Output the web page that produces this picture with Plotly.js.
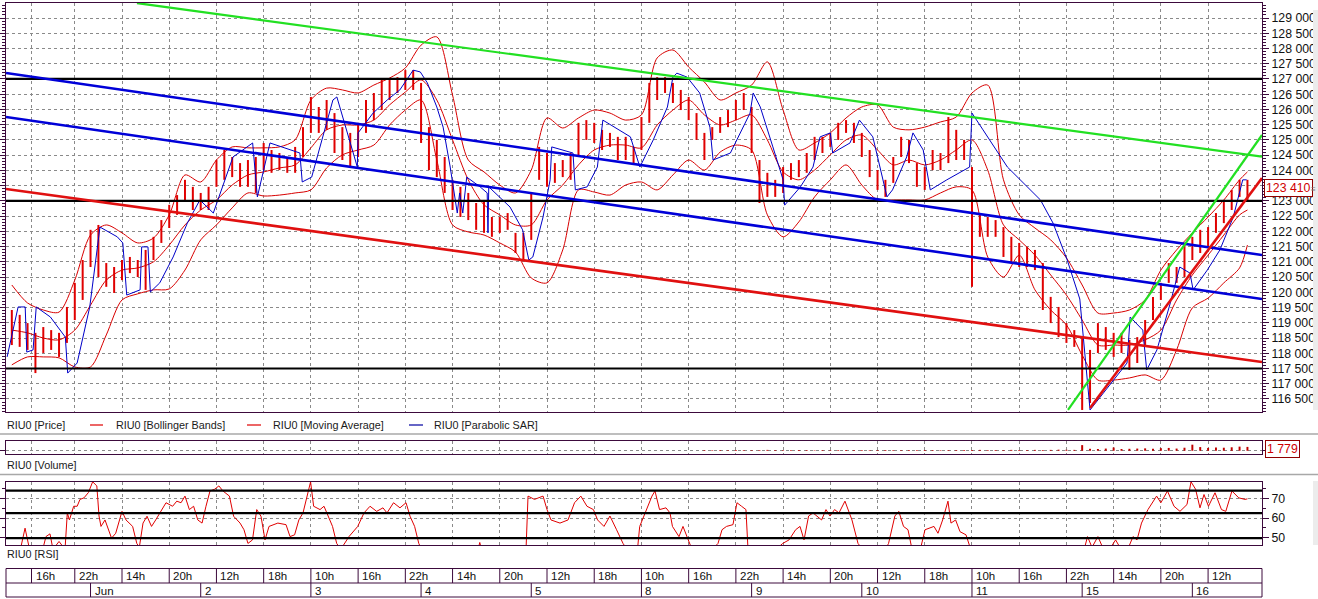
<!DOCTYPE html>
<html><head><meta charset="utf-8">
<script src="https://cdn.plot.ly/plotly-3.0.1.min.js"></script>
<style>html,body{margin:0;padding:0;background:#fff;overflow:hidden}#chart{width:1318px;height:599px}</style>
</head><body><div id="chart"></div>
<script>
// ---------- DATA (x = trading-session hour index, 14 h per session) ----------
const firstBarHour = 4;
const priceHigh = [119420,119260,118990,118670,118860,118760,118670,119520,120310,121060,122050,122210,120960,120830,121060,121160,121060,121390,121820,122370,122870,123190,123690,123460,123260,123460,124340,124670,124440,124240,124340,124440,124900,124670,124570,124440,124770,125420,126410,126080,126310,125880,125420,125230,125560,126310,126540,126970,126970,127060,127290,127290,126870,125420,125000,124440,123690,123460,123260,122930,123030,122470,122470,122600,121950,121950,123260,124770,124570,124240,124340,124570,125560,125650,125560,125330,125230,125100,125100,124770,125750,126870,127060,127060,126870,126640,126410,125880,125230,125420,125750,125980,126310,126540,126080,124340,123920,123690,124110,124240,124340,124570,125100,125100,125230,125560,125650,125560,125230,124670,124010,123690,124440,125100,125000,124240,124110,124670,124570,125750,125330,125000,124110,122600,122470,122370,122140,121820,121620,121490,121390,120960,119850,119520,118990,118760,118530,118110,118990,118860,118670,118670,118440,118530,119090,119850,120310,120960,120830,121620,121820,122050,122140,122600,123030,123360,123690,123690];
const priceLow = [118270,118210,118110,117350,118010,118110,117880,118340,119090,119750,120830,120500,120180,119980,120400,120630,120500,120080,121060,121620,122110,122540,123030,122700,122700,122700,123460,123690,123780,123460,123460,123260,124010,123920,124010,123920,123920,124440,125230,125230,125330,124570,124340,124110,124440,125230,125650,125980,126310,126540,126640,126640,124900,124010,123780,123260,122700,122470,122370,122050,121950,121820,121950,122050,121290,121060,121720,123690,123460,123590,123780,123690,124440,125000,124900,124670,124770,124340,124340,124240,124670,125560,126310,126540,126210,125980,125650,125000,124340,125000,125230,125420,125650,125980,124570,122930,123130,123130,123260,123690,123780,123920,124340,124570,124770,125000,125230,124900,124440,123780,123360,123130,123590,124440,124240,123460,123360,124010,124010,124240,124340,124340,120180,121820,121820,121820,121160,120960,120830,120830,120730,119420,118990,118530,118340,118210,116140,116370,118010,118110,117880,118010,117450,117680,118210,119090,119750,120310,120310,120500,121060,121290,121490,121950,122270,122700,123130,123030];
const lastPrice = 123410;

const bandHour = [4,6,8,10,12,14,16,18,20,22,24,26,28,30,32,34,36,38,40,42,44,46,48,50,52,54,56,58,60,62,64,66,68,70,72,74,76,78,80,82,84,86,88,90,92,94,96,98,100,102,104,106,108,110,112,114,116,118,120,122,124,126,128,130,132,134,136,138,140,142,144,146,148,150,152,154,156,158,160,161];
const bbUpper = [120240,119650,119420,119350,120400,121880,122210,121950,121620,121780,122540,123850,123620,124340,124770,124740,124740,124770,125000,126310,126700,126640,126540,126800,127030,127360,128110,128380,126470,124340,123950,123520,123260,124010,125720,125390,125720,125980,125880,125650,125820,127690,127950,127390,126900,126310,126540,126800,127560,125980,124670,124900,125230,125720,126080,126150,125420,125330,125420,125590,125750,126540,126800,123690,122540,122110,121720,121130,120240,119320,119320,119420,119750,120730,121390,121950,122470,123030,123690,123950];
const bbLower = [117620,117880,117880,117850,117550,117550,118600,119750,119950,120080,120110,120730,121720,122210,122770,123260,123160,123190,123260,123360,124080,124510,124670,124830,125490,125980,126310,124340,122210,121980,121880,121620,121320,120470,120310,121390,123360,123290,123190,123520,123620,123360,123850,124340,124010,124600,124830,124670,122540,121820,122310,123130,123690,124180,123520,123030,123030,123030,123030,123260,123460,123360,121160,120500,121220,120080,119420,118930,117940,117120,117120,117190,117290,117120,118110,119490,119810,120310,120800,121550];
const movingAvg = [118760,118670,118500,118440,118760,119580,120400,120730,120800,121000,121550,122210,122700,123030,123520,123850,123950,124080,124180,124740,125330,125490,125490,125650,126150,126570,126970,126310,125000,123690,122870,122540,122210,122210,123030,123520,124180,124670,124830,124830,124740,125490,125980,126310,125820,125490,125650,125820,125000,123950,123690,124010,124510,125000,125160,124670,124180,124340,124180,124340,124670,125000,124010,122210,121720,121220,120570,119910,119090,118270,118270,118270,118440,118760,119750,120570,121220,121880,122540,122700];

const sarHour = [3.4,4.8,5.7,5.9,6.7,7.1,8.9,10.8,11.1,12.3,13.9,15.2,17.4,18.1,18.6,20.3,20.5,21.3,21.6,22.8,24.5,26.3,27.9,28.8,29.6,32.1,34.6,35.2,36.8,40.6,40.9,42.1,44.8,45.3,47.9,48.0,49.9,51.7,53.3,55.0,55.9,56.8,58.0,58.8,59.7,60.6,60.9,61.3,61.8,63.5,64.4,64.5,64.6,67.3,68.9,69.5,69.7,70.2,71.5,72.4,72.6,75.3,75.6,77.1,78.4,78.8,79.1,82.6,83.8,85.5,87.3,88.0,88.5,89.8,91.4,92.7,93.1,95.3,97.8,98.2,99.1,100.7,102.0,102.2,104.2,105.8,106.7,108.0,108.3,110.5,111.7,113.4,115.2,115.9,117.7,118.5,119.8,120.7,122.8,125.7,126.0,127.4,130.5,134.7,136.3,138.1,139.7,141.0,142.3,145.7,146.1,147.7,148.2,149.5,151.2,152.4,153.7,154.1,155.9,157.5,159.2,160.4,160.9];
const sarValue = [117880,119520,119520,118040,118110,119520,119190,118530,117350,117680,119520,122140,121820,121620,119910,120080,121490,121490,120010,120310,121160,122270,123030,122800,122600,124440,124900,123130,124900,124570,123620,123780,126310,126410,124110,125230,125880,126310,126640,127290,127230,126870,126080,125420,124110,122600,123260,122600,123780,123460,123260,121950,123460,122800,122050,121290,121060,121160,122470,123690,124770,124570,123360,123460,124110,125000,125650,125100,124110,125000,126080,127060,127190,127060,126540,125420,124340,124570,125880,126540,126080,124770,123690,122860,123460,124110,125100,125230,124570,124900,125650,125100,123130,123360,124440,125230,124670,123360,123690,124110,125880,125330,124110,123030,122270,121060,119780,116140,116560,117680,119190,118760,117450,118110,119650,120830,120630,120080,120730,121390,122470,123690,123690];

const levelPrices = [127000, 123000, 117500];
const greenUpperHour = [19.9, 162.85], greenUpperPrice = [129490, 124450];
const blueUpperHour = [3.26, 162.85], blueUpperPrice = [127196, 121224];
const blueLowerHour = [3.26, 162.85], blueLowerPrice = [125752, 119781];
const redLongHour = [3.26, 162.85], redLongPrice = [123390, 117714];
const greenSteepHour = [138.2, 162.85], greenSteepPrice = [116139, 125162];
const redSteepHour = [141.0, 162.85], redSteepPrice = [116205, 123751];

const priceTicks = [116500,117000,117500,118000,118500,119000,119500,120000,120500,121000,121500,122000,122500,123000,123500,124000,124500,125000,125500,126000,126500,127000,127500,128000,128500,129000];
const priceTickLabels = ['116 500','117 000','117 500','118 000','118 500','119 000','119 500','120 000','120 500','121 000','121 500','122 000','122 500','123 000','','124 000','124 500','125 000','125 500','126 000','126 500','127 000','127 500','128 000','128 500','129 000'];

const firstVolHour = 92;
const volume = [300,250,300,200,350,300,250,300,400,300,250,300,350,300,200,300,250,300,350,300,300,250,300,350,300,250,300,300,350,300,250,300,300,350,300,400,300,350,300,400,350,300,400,350,400,500,450,400,2600,900,800,1000,1500,800,900,1000,1100,900,1200,1300,1000,1400,2800,1700,1300,1500,1400,1600,1900,1779];
const lastVolume = 1779;

const rsiHour = [4.0,5.2,5.68,6.25,7.8,8.34,8.85,9.23,10.0,10.76,11.05,11.32,11.86,12.3,12.66,13.17,13.73,14.27,14.8,15.08,15.33,15.84,16.67,17.2,18.0,18.51,19.35,19.88,20.2,20.67,21.18,21.75,22.28,22.83,23.59,24.43,24.96,25.5,26.0,26.56,27.1,27.63,28.17,28.67,29.18,29.77,30.31,30.83,31.65,32.18,33.0,33.5,34.0,34.58,35.12,35.66,36.17,36.68,37.8,38.84,39.35,39.93,40.47,41.0,41.76,41.96,42.35,43.16,43.67,44.18,44.75,45.28,45.8,46.84,47.95,48.75,49.51,50.36,51.16,51.67,52.5,53.32,54.09,54.6,55.18,55.71,56.5,63.0,63.46,63.9,69.3,69.59,70.41,71.5,72.0,72.51,73.65,74.67,75.5,76.3,77.08,77.9,78.43,79.24,80.0,80.84,81.66,82.5,83.5,83.78,84.33,85.34,85.72,86.3,87.12,87.63,87.94,88.77,89.28,89.87,90.42,92,93.73,94.24,94.81,95.63,96.14,96.72,97.28,97.54,100,101.95,102.75,103.59,104.15,104.66,105.24,105.8,106.89,107.45,107.96,108.54,109.1,109.86,110.75,111.52,112.5,115.0,115.4,116.2,116.7,117.3,117.87,118.38,119.5,120.03,121.17,121.68,122.27,122.95,123.33,123.92,124.48,125.24,125.84,128,140,140.68,141.25,142.0,142.6,143.8,144.25,144.8,146.0,146.46,146.97,147.54,148.36,149.46,150.0,150.84,151.67,152.43,153.32,153.83,154.41,154.97,155.48,156.05,156.88,157.7,158.25,159.03,159.9,160.69,161.0];
const rsiValue = [40,46,54.8,44,42,50.5,51.9,44,48,44,62.6,59,66,66,69.5,70.3,73,78.5,76.4,61,55.7,59,49.7,52.2,63.4,59,55.7,47,45,57.4,60.9,55.7,59,62.6,67.8,66,68.6,67.8,71.2,64.3,66,59,57.4,66,73.8,74.7,76.4,73.8,71.2,60.9,57.4,54,47,48.8,64.3,60.9,48.8,55.7,57.4,56.6,50.5,51.4,59,62.6,74.7,78.5,66,64.3,66,61,55.7,47,44,50.5,55.7,62.6,66,63.4,65.2,62.6,67.8,65.2,67.8,60.9,55.7,47,40,40,47.5,40,40,71.2,69.5,71.2,64.3,59,57.4,59,67.8,71.2,66,64.3,59,55.7,61,54,47,42,44,55.7,61,71.2,73.8,64.3,65.2,62.6,55.7,50.5,55.7,48.8,44,40,47,54,55.7,56.6,67.8,66,64.3,44,40,47,48.8,54,55.7,48.8,61,62.6,59,64.3,61,64.3,62.6,68.6,59,47,42,44,47,61,63.4,55.7,54,44,45,54,55.7,52.2,59,68.6,57.4,59,53,51.4,44,40,40,50.5,45,50.5,45,46,48.8,45,46,50.5,48.8,57.4,64.3,71.2,67.8,73.8,66,63.4,66.9,78.5,74.7,65.2,72,66,72.9,64.3,63.4,73.8,70.3,69.5,69.8];
const rsiLevels = [74, 62.5, 49.7];

const hourTicks = [6.5,12,18,24,30,36,42,48,54,60,66,72,78,84,90,96,102,108,114,120,126,132,138,144,150,156];
const hourLabels = ['16h','22h','14h','20h','12h','18h','10h','16h','22h','14h','20h','12h','18h','10h','16h','22h','14h','20h','12h','18h','10h','16h','22h','14h','20h','12h'];
const dayTicks = [14,28,42,56,70,84,98,112,126,140,154];
const dayLabels = ['Jun','2','3','4','5','8','9','10','11','15','16'];
const legendNames = ['RIU0 [Price]','RIU0 [Bollinger Bands]','RIU0 [Moving Average]','RIU0 [Parabolic SAR]'];

// ---------- LAYOUT HELPERS ----------
const W = 1318, H = 599, PL = 6, PR = 1262;
const X0 = 3.26, X1 = 162.85;
const pxX = p => (p - PL) / (PR - PL);
const pxY = p => 1 - p / H;
const FONT = 'Liberation Sans, Arial, sans-serif';
const FRAME = '#3c0a3c';
const RED = '#e00000';
const fmt = v => String(v).replace(/\B(?=(\d{3})+(?!\d))/g, ' ');

// ---------- TRACES ----------
const traces = [];
const bx = [], by = [];
priceHigh.forEach((h, i) => { const t = firstBarHour + i; bx.push(t, t, null); by.push(priceLow[i], h, null); });
traces.push({type:'scatter', mode:'lines', x:bx, y:by, xaxis:'x', yaxis:'y', line:{color:RED, width:2}, hoverinfo:'skip'});
[bbUpper, bbLower, movingAvg].forEach(arr => traces.push({type:'scatter', mode:'lines', x:bandHour, y:arr, xaxis:'x', yaxis:'y', line:{color:'#d80000', width:1, shape:'spline', smoothing:0.8}, hoverinfo:'skip'}));
traces.push({type:'scatter', mode:'lines', x:sarHour, y:sarValue, xaxis:'x', yaxis:'y', line:{color:'#0000c8', width:1}, hoverinfo:'skip'});
levelPrices.forEach(v => traces.push({type:'scatter', mode:'lines', x:[X0, X1], y:[v, v], xaxis:'x', yaxis:'y', line:{color:'#000', width:2.2}, hoverinfo:'skip'}));
const tl = (xs, ys, c, w) => traces.push({type:'scatter', mode:'lines', x:xs, y:ys, xaxis:'x', yaxis:'y', line:{color:c, width:w}, hoverinfo:'skip'});
tl(greenUpperHour, greenUpperPrice, '#22e022', 2.2);
tl(blueUpperHour, blueUpperPrice, '#0000d8', 2.6);
tl(blueLowerHour, blueLowerPrice, '#0000d8', 2.6);
tl(redLongHour, redLongPrice, '#e01010', 2.6);
tl(greenSteepHour, greenSteepPrice, '#22e022', 2.2);
tl(redSteepHour, redSteepPrice, '#e01010', 2.6);
traces.push({type:'bar', x:volume.map((_, i) => firstVolHour + i), y:volume, xaxis:'x2', yaxis:'y2', marker:{color:'#c00000'}, width:0.25, hoverinfo:'skip'});
traces.push({type:'scatter', mode:'lines', x:rsiHour, y:rsiValue, xaxis:'x3', yaxis:'y3', line:{color:RED, width:1}, hoverinfo:'skip'});
rsiLevels.forEach(v => traces.push({type:'scatter', mode:'lines', x:[X0, X1], y:[v, v], xaxis:'x3', yaxis:'y3', line:{color:'#000', width:2.4}, hoverinfo:'skip'}));

// ---------- AXES ----------
const GRID = {showgrid:true, gridcolor:'#8a8a8a', griddash:'3px,3px', gridwidth:1};
const xBase = Object.assign({range:[X0, X1], tickmode:'array', tickvals:hourTicks, showticklabels:false, ticks:'', zeroline:false, showline:true, linecolor:FRAME, linewidth:1, mirror:true, fixedrange:true}, GRID);
const yBase = Object.assign({side:'right', showline:true, linecolor:FRAME, linewidth:1, mirror:'ticks', ticks:'outside', tickcolor:FRAME, ticklen:6, zeroline:false, tickfont:{family:FONT, size:12.3, color:'#111'}, fixedrange:true}, GRID);

// ---------- SHAPES / ANNOTATIONS ----------
const shapes = [], ann = [];
const hline = (py, x0p, x1p, c, w) => shapes.push({type:'line', xref:'paper', yref:'paper', x0:pxX(x0p), x1:pxX(x1p), y0:pxY(py), y1:pxY(py), line:{color:c, width:w}});
hline(434, 0, W, '#a8a8a8', 1.5);
hline(474.5, 0, W, '#a8a8a8', 1.5);
shapes.push({type:'rect', xref:'paper', yref:'paper', x0:0, x1:1, y0:pxY(597), y1:pxY(568.5), line:{color:FRAME, width:1}});
hline(583, PL, PR, FRAME, 1);
hourTicks.forEach((t, i) => {
  shapes.push({type:'line', xref:'x', yref:'paper', x0:t, x1:t, y0:pxY(568.5), y1:pxY(583), line:{color:FRAME, width:1}});
  ann.push({xref:'x', yref:'paper', x:t, y:pxY(576), text:hourLabels[i], showarrow:false, xanchor:'left', yanchor:'middle', xshift:2, font:{family:FONT, size:11.5, color:'#111'}});
});
dayTicks.forEach((t, i) => {
  shapes.push({type:'line', xref:'x', yref:'paper', x0:t, x1:t, y0:pxY(583), y1:pxY(597), line:{color:FRAME, width:1}});
  ann.push({xref:'x', yref:'paper', x:t, y:pxY(590.5), text:dayLabels[i], showarrow:false, xanchor:'left', yanchor:'middle', xshift:2, font:{family:FONT, size:11.5, color:'#111'}});
});
const txt = (px, py, s, c) => ann.push({xref:'paper', yref:'paper', x:pxX(px), y:pxY(py), text:s, showarrow:false, xanchor:'left', yanchor:'middle', font:{family:FONT, size:10.8, color:c || '#1a1a1a'}});
txt(5, 425, legendNames[0]);
hline(425, 90, 103, RED, 1.2); txt(114, 425, legendNames[1]);
hline(425, 247, 261, RED, 1.2); txt(271, 425, legendNames[2]);
hline(425, 409, 423, '#0000a0', 1.2); txt(432, 425, legendNames[3]);
txt(5, 465, 'RIU0 [Volume]');
txt(5, 554, 'RIU0 [RSI]');
ann.push({xref:'paper', yref:'y', x:pxX(1264), y:lastPrice, text:fmt(lastPrice), showarrow:false, xanchor:'left', yanchor:'middle', bordercolor:'#900000', borderwidth:1, borderpad:1, bgcolor:'#fff', font:{family:FONT, size:12.3, color:'#d00000'}});
ann.push({xref:'paper', yref:'paper', x:pxX(1309), y:pxY(189), text:'≡', showarrow:false, xanchor:'left', yanchor:'middle', font:{family:FONT, size:8, color:'#777'}});
ann.push({xref:'paper', yref:'paper', x:pxX(1265), y:pxY(449), text:fmt(lastVolume), showarrow:false, xanchor:'left', yanchor:'middle', bordercolor:'#900000', borderwidth:1, borderpad:1, bgcolor:'#fff', font:{family:FONT, size:12.3, color:'#d00000'}});
shapes.push({type:'rect', xref:'paper', yref:'paper', x0:pxX(1313), x1:pxX(1318), y0:pxY(410), y1:pxY(10), fillcolor:'#ececec', line:{width:0}});
shapes.push({type:'rect', xref:'paper', yref:'paper', x0:pxX(1313), x1:pxX(1318), y0:pxY(545), y1:pxY(481), fillcolor:'#ececec', line:{width:0}});

const layout = {
  width:W, height:H, margin:{l:PL, r:W-PR, t:0, b:0}, paper_bgcolor:'#fff', plot_bgcolor:'#fff',
  showlegend:false, separators:', ', hovermode:false,
  xaxis: Object.assign({}, xBase, {anchor:'y', domain:[0,1]}),
  xaxis2: Object.assign({}, xBase, {anchor:'y2', domain:[0,1], matches:'x'}),
  xaxis3: Object.assign({}, xBase, {anchor:'y3', domain:[0,1], matches:'x'}),
  yaxis: Object.assign({}, yBase, {anchor:'x', domain:[pxY(412), pxY(3)], range:[116073, 129492], tickmode:'array', tickvals:priceTicks, ticktext:priceTickLabels, minor:{dtick:100, ticks:'outside', ticklen:3, tickcolor:FRAME, showgrid:false}}),
  yaxis2: Object.assign({}, yBase, {anchor:'x2', domain:[pxY(454), pxY(441)], range:[-1500, 4500], tickmode:'array', tickvals:[0], showticklabels:false, ticklen:5}),
  yaxis3: Object.assign({}, yBase, {anchor:'x3', domain:[pxY(545), pxY(482)], range:[46.2, 78.4], tickmode:'array', tickvals:[50,60,70], ticklen:6, minor:{tickvals:[55,65,75], ticks:'outside', ticklen:3, tickcolor:FRAME, showgrid:false}}),
  shapes:shapes, annotations:ann
};
Plotly.newPlot('chart', traces, layout, {staticPlot:true, displayModeBar:false});
</script></body></html>
